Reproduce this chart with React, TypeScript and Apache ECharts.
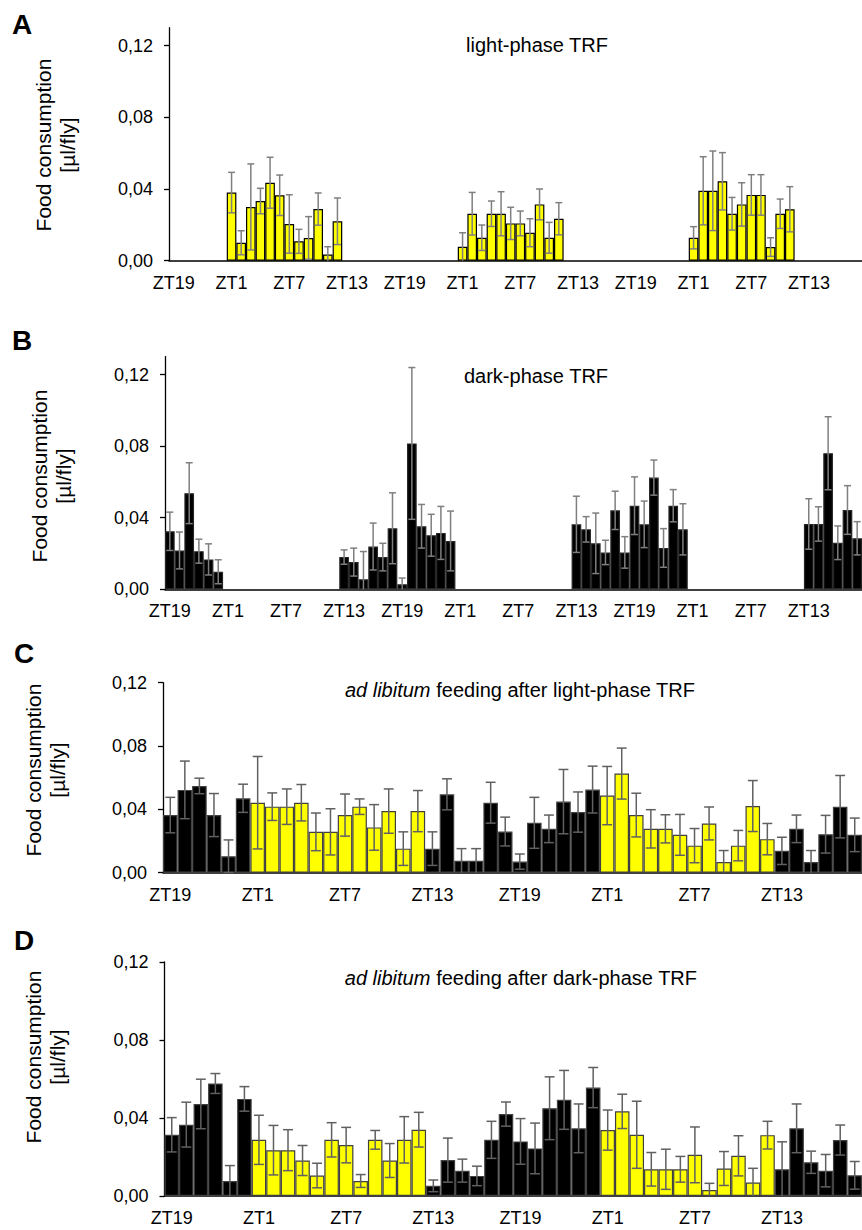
import React, { useEffect, useRef } from "react";
import * as echarts from "echarts";

const N = null;
const FONT = "'Liberation Sans', Arial, Helvetica, sans-serif";

const xTickLabels = ["ZT19", "ZT1", "ZT7", "ZT13"];
const yTicks = [0, 0.04, 0.08, 0.12];

// Panel A: light-phase TRF (72 hourly bins, starting ZT19)
const aMean = [
  N, N, N, N, N, N,
  0.038, 0.010, 0.030, 0.0333, 0.0435, 0.0365, 0.0205, 0.0108, 0.0127, 0.0288, 0.0035, 0.022,
  N, N, N, N, N, N, N, N, N, N, N, N,
  0.0078, 0.0262, 0.0128, 0.0262, 0.0262, 0.0208, 0.0208, 0.0156, 0.0314, 0.0128, 0.0234,
  N, N, N, N, N, N, N, N, N, N, N, N, N,
  0.0128, 0.039, 0.039, 0.0443, 0.0262, 0.0314, 0.0367, 0.0367, 0.0076, 0.0262, 0.0287,
  N, N, N, N, N, N, N,
];
const aErr = [
  N, N, N, N, N, N,
  0.0113, 0.0067, 0.024, 0.0071, 0.0142, 0.0113, 0.0163, 0.0067, 0.0119, 0.009, 0.0043, 0.013,
  N, N, N, N, N, N, N, N, N, N, N, N,
  0.0078, 0.0119, 0.0071, 0.0071, 0.0123, 0.009, 0.0069, 0.0078, 0.0086, 0.0086, 0.009,
  N, N, N, N, N, N, N, N, N, N, N, N, N,
  0.0062, 0.019, 0.0222, 0.016, 0.0091, 0.0121, 0.0113, 0.0113, 0.0052, 0.0082, 0.0126,
  N, N, N, N, N, N, N,
];

// Panel B: dark-phase TRF
const bMean = [
  0.0324, 0.0217, 0.0537, 0.0213, 0.0167, 0.0098,
  N, N, N, N, N, N, N, N, N, N, N, N,
  0.018, 0.0152, 0.0056, 0.0239, 0.018, 0.0341, 0.0028, 0.0815, 0.0352, 0.0302, 0.0315, 0.027,
  N, N, N, N, N, N, N, N, N, N, N, N,
  0.0363, 0.0335, 0.0257, 0.0206, 0.0441, 0.0206, 0.0467, 0.0363, 0.0624, 0.0231, 0.0467, 0.0335,
  N, N, N, N, N, N, N, N, N, N, N, N,
  0.0365, 0.0365, 0.076, 0.026, 0.0443, 0.0285,
];
const bErr = [
  0.0107, 0.0103, 0.017, 0.0067, 0.0087, 0.0067,
  N, N, N, N, N, N, N, N, N, N, N, N,
  0.004, 0.0078, 0.0155, 0.0131, 0.0077, 0.0198, 0.0035, 0.0424, 0.0122, 0.0117, 0.0148, 0.0167,
  N, N, N, N, N, N, N, N, N, N, N, N,
  0.0157, 0.0071, 0.0169, 0.0068, 0.0107, 0.0088, 0.0161, 0.013, 0.0098, 0.0108, 0.009, 0.0143,
  N, N, N, N, N, N, N, N, N, N, N, N,
  0.0141, 0.0096, 0.0204, 0.0094, 0.0136, 0.0093,
];

// Panel C: ad libitum after light-phase TRF (48 bins)
const cMean = [
  0.0364, 0.0523, 0.0548, 0.0364, 0.0104, 0.047,
  0.0442, 0.0417, 0.0417, 0.0442, 0.0258, 0.0258, 0.0364, 0.0417, 0.0286, 0.0389, 0.0152, 0.0389,
  0.0152, 0.0495, 0.0076, 0.0076, 0.0442, 0.026, 0.007, 0.0315, 0.0277, 0.0449, 0.0383, 0.0525,
  0.0487, 0.0626, 0.0364, 0.0277, 0.0277, 0.0239, 0.0171, 0.0311, 0.0068, 0.0171, 0.0421, 0.0212,
  0.0138, 0.0277, 0.0068, 0.0243, 0.0417, 0.0239,
];
const cErr = [
  0.0112, 0.0182, 0.0049, 0.0136, 0.0103, 0.0089,
  0.0292, 0.0087, 0.0112, 0.0115, 0.0119, 0.0146, 0.0133, 0.0049, 0.0144, 0.014, 0.0106, 0.013,
  0.0106, 0.0098, 0.0076, 0.0076, 0.0129, 0.0091, 0.0048, 0.0161, 0.0087, 0.0203, 0.0127, 0.0148,
  0.0184, 0.0161, 0.0138, 0.0121, 0.0089, 0.0129, 0.0108, 0.0104, 0.0072, 0.0096, 0.0161, 0.0099,
  0.0086, 0.0087, 0.0072, 0.0119, 0.0197, 0.0106,
];

// Panel D: ad libitum after dark-phase TRF (48 bins)
const dMean = [
  0.0314, 0.0366, 0.0472, 0.0577, 0.0077, 0.0498,
  0.0288, 0.0235, 0.0235, 0.0182, 0.0105, 0.0288, 0.0261, 0.0077, 0.0288, 0.0182, 0.0288, 0.034,
  0.0052, 0.0184, 0.013, 0.0103, 0.0288, 0.042, 0.028, 0.0244, 0.045, 0.0493, 0.0347, 0.0556,
  0.0338, 0.0434, 0.0314, 0.0137, 0.0137, 0.0137, 0.0211, 0.0031, 0.0141, 0.0206, 0.0069, 0.0312,
  0.0137, 0.0347, 0.0173, 0.013, 0.0287, 0.0106,
];
const dErr = [
  0.0088, 0.0115, 0.0127, 0.0051, 0.0079, 0.0063,
  0.0126, 0.0127, 0.0105, 0.0077, 0.0063, 0.0088, 0.0091, 0.0033, 0.0048, 0.0087, 0.0119, 0.0089,
  0.003, 0.0113, 0.0059, 0.005, 0.0095, 0.0062, 0.0117, 0.013, 0.0161, 0.0151, 0.0125, 0.0103,
  0.0103, 0.0088, 0.0172, 0.0086, 0.0103, 0.0066, 0.0143, 0.0034, 0.0087, 0.0103, 0.0073, 0.0071,
  0.0141, 0.0125, 0.0057, 0.0083, 0.0077, 0.0071,
];

const ztOf = (i: number) => ((18 + i) % 24) + 1;
const isLight = (i: number) => ztOf(i) >= 1 && ztOf(i) <= 12;

const panels = [
  {
    letter: "A", mean: aMean, err: aErr, max: 0.13,
    grid: { left: 169, top: 27.7, width: 701, height: 233 },
    title: "light-phase TRF", titlePos: [537, 45],
    letterPos: [12, 24], namePos: [55, 145],
    border: "#000", errColor: "#7f7f7f", cap: 0.36,
  },
  {
    letter: "B", mean: bMean, err: bErr, max: 0.13,
    grid: { left: 165, top: 356.6, width: 705, height: 232.7 },
    title: "dark-phase TRF", titlePos: [536, 376],
    letterPos: [12, 340], namePos: [51, 476],
    border: "#262626", errColor: "#7f7f7f", cap: 0.36,
  },
  {
    letter: "C", mean: cMean, err: cErr, max: 0.12,
    grid: { left: 163, top: 682.7, width: 701, height: 190 },
    title: "{i|ad libitum} feeding after light-phase TRF", titlePos: [520, 690],
    letterPos: [14, 653], namePos: [45, 770],
    border: "#404040", errColor: "#606060", cap: 0.34,
  },
  {
    letter: "D", mean: dMean, err: dErr, max: 0.12,
    grid: { left: 164.5, top: 962, width: 709, height: 234 },
    title: "{i|ad libitum} feeding after dark-phase TRF", titlePos: [521, 978],
    letterPos: [14, 940], namePos: [45, 1057],
    border: "#404040", errColor: "#606060", cap: 0.34,
  },
];

const fmtY = (v: number) => {
  const k = Math.round(v / 0.04);
  if (Math.abs(k * 0.04 - v) > 1e-6) return "";
  return v.toFixed(2).replace(".", ",");
};

export default function App() {
  const ref = useRef<HTMLDivElement>(null);
  useEffect(() => {
    if (!ref.current) return;
    const chart = echarts.init(ref.current, null, { renderer: "svg" });

    const grid: any[] = [];
    const xAxis: any[] = [];
    const yAxis: any[] = [];
    const series: any[] = [];
    const graphic: any[] = [];

    panels.forEach((p, k) => {
      const cats = p.mean.map((_, i) => "ZT" + ztOf(i));
      grid.push({ ...p.grid, containLabel: false });
      xAxis.push({
        type: "category",
        gridIndex: k,
        data: cats,
        boundaryGap: true,
        axisLine: { show: true, lineStyle: { color: "#000", width: 1.5 } },
        axisTick: { show: false },
        axisLabel: {
          interval: 5,
          margin: 13,
          fontSize: 18,
          fontFamily: FONT,
          color: "#000",
          formatter: (_v: string, idx: number) => xTickLabels[(idx / 6) % 4] ?? "",
        },
        splitLine: { show: false },
      });
      yAxis.push({
        type: "value",
        gridIndex: k,
        min: 0,
        max: p.max,
        interval: 0.04,
        axisLine: { show: true, lineStyle: { color: "#000", width: 1.3 } },
        axisTick: { show: true, length: 5, inside: false, customValues: yTicks, lineStyle: { color: "#000", width: 1.3 } },
        axisLabel: {
          margin: 16,
          fontSize: 18,
          fontFamily: FONT,
          color: "#000",
          customValues: yTicks,
          formatter: fmtY,
        },
        splitLine: { show: false },
      });
      series.push({
        type: "bar",
        xAxisIndex: k,
        yAxisIndex: k,
        barCategoryGap: "0%",
        barGap: "0%",
        z: 2,
        data: p.mean.map((m, i) =>
          m == null
            ? null
            : {
                value: m,
                itemStyle: {
                  color: isLight(i) ? "#ffff00" : "#000000",
                  borderColor: p.border,
                  borderWidth: 1.2,
                },
              }
        ),
      });
      const errData: any[] = [];
      p.mean.forEach((m, i) => {
        const e = p.err[i];
        if (m == null || e == null) return;
        errData.push([i, Math.max(0, m - e), m + e]);
      });
      const errColor = p.errColor;
      const cap = p.cap;
      series.push({
        type: "custom",
        xAxisIndex: k,
        yAxisIndex: k,
        z: 5,
        silent: true,
        encode: { x: 0, y: [1, 2] },
        data: errData,
        renderItem: (_params: any, api: any) => {
          const x = api.value(0);
          const lo = api.value(1);
          const hi = api.value(2);
          const pHi = api.coord([x, hi]);
          const pLo = api.coord([x, lo]);
          const w = api.size([1, 0])[0] * cap;
          const st = { stroke: errColor, lineWidth: 1.5 };
          const children: any[] = [
            { type: "line", shape: { x1: pHi[0], y1: pHi[1], x2: pLo[0], y2: pLo[1] }, style: st },
            { type: "line", shape: { x1: pHi[0] - w, y1: pHi[1], x2: pHi[0] + w, y2: pHi[1] }, style: st },
          ];
          if (lo > 0) {
            children.push({ type: "line", shape: { x1: pLo[0] - w, y1: pLo[1], x2: pLo[0] + w, y2: pLo[1] }, style: st });
          }
          return { type: "group", children };
        },
      });

      graphic.push({
        type: "text",
        x: p.letterPos[0],
        y: p.letterPos[1],
        style: {
          text: p.letter,
          fontSize: 28,
          fontWeight: "bold",
          fontFamily: FONT,
          fill: "#000",
          align: "left",
          verticalAlign: "middle",
          textAlign: "left",
          textVerticalAlign: "middle",
        },
      });
      graphic.push({
        type: "text",
        x: p.titlePos[0],
        y: p.titlePos[1],
        style: {
          text: p.title,
          fontSize: 20,
          fontFamily: FONT,
          fill: "#000",
          align: "center",
          verticalAlign: "middle",
          textAlign: "center",
          textVerticalAlign: "middle",
          rich: {
            i: { fontStyle: "italic", fontSize: 20, fontFamily: FONT, fill: "#000", color: "#000" },
          },
        },
      });
      graphic.push({
        type: "text",
        x: p.namePos[0],
        y: p.namePos[1],
        rotation: Math.PI / 2,
        style: {
          text: "Food consumption\n[µl/fly]",
          fontSize: 21,
          lineHeight: 24,
          fontFamily: FONT,
          fill: "#000",
          align: "center",
          verticalAlign: "middle",
          textAlign: "center",
          textVerticalAlign: "middle",
        },
      });
    });

    chart.setOption({
      animation: false,
      backgroundColor: "#ffffff",
      grid,
      xAxis,
      yAxis,
      series,
      graphic,
    });
    return () => chart.dispose();
  }, []);

  return (
    <div
      ref={ref}
      style={{ position: "absolute", left: 0, top: 0, width: 862, height: 1230, background: "#fff" }}
    />
  );
}
